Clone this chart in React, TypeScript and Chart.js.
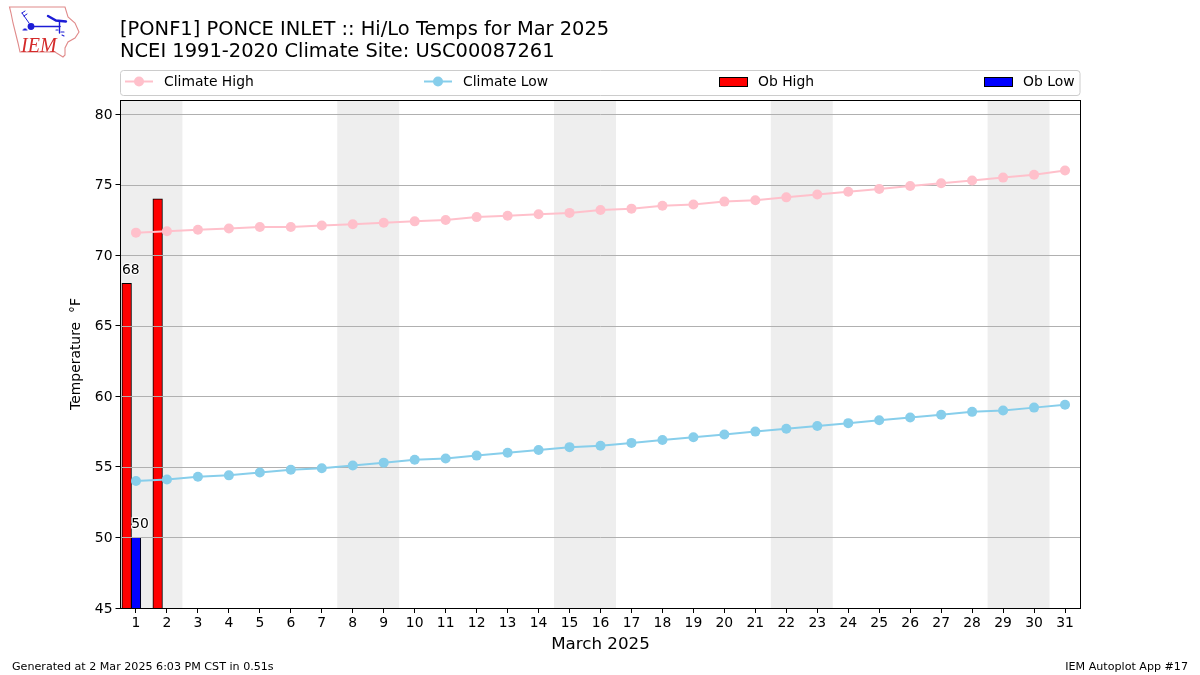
import React, { useEffect, useRef } from "react";
import { Chart, registerables } from "chart.js";

Chart.register(...registerables);

const titleLines = ["[PONF1] PONCE INLET :: Hi/Lo Temps for Mar 2025", "NCEI 1991-2020 Climate Site: USC00087261"];
const xAxisTitle = "March 2025";
const yAxisTitle = "Temperature  \u00B0F";
const footerLeft = "Generated at 2 Mar 2025 6:03 PM CST in 0.51s";
const footerRight = "IEM Autoplot App #17";

const days = [1, 2, 3, 4, 5, 6, 7, 8, 9, 10, 11, 12, 13, 14, 15, 16, 17, 18, 19, 20, 21, 22, 23, 24, 25, 26, 27, 28, 29, 30, 31];
const yTicks = [45, 50, 55, 60, 65, 70, 75, 80];
const weekendStarts = [0.5, 7.5, 14.5, 21.5, 28.5];
const climateHigh = [71.6, 71.7, 71.8, 71.9, 72.0, 72.0, 72.1, 72.2, 72.3, 72.4, 72.5, 72.7, 72.8, 72.9, 73.0, 73.2, 73.3, 73.5, 73.6, 73.8, 73.9, 74.1, 74.3, 74.5, 74.7, 74.9, 75.1, 75.3, 75.5, 75.7, 76.0];
const climateLow = [54.0, 54.1, 54.3, 54.4, 54.6, 54.8, 54.9, 55.1, 55.3, 55.5, 55.6, 55.8, 56.0, 56.2, 56.4, 56.5, 56.7, 56.9, 57.1, 57.3, 57.5, 57.7, 57.9, 58.1, 58.3, 58.5, 58.7, 58.9, 59.0, 59.2, 59.4];
const obHighDays = [1, 2];
const obHighValues = [68, 74];
const obLowDays = [1];
const obLowValues = [50];

const FONT = "'DejaVu Sans'";
const HIGH_OFFSET = -0.3;
const LOW_OFFSET = 0;
const BAR_PX = 9.6;
const MARKER_R = 5;

const chrome = {
  id: "chrome",
  beforeDraw(chart: any) {
    if (chart.$labelsNudged) return;
    chart.$labelsNudged = true;
    chart.scales.y.getLabelItems(chart.chartArea).forEach((item: any) => { item.textOffset += 1; });
  },
  beforeDatasetsDraw(chart: any) {
    const { ctx, chartArea: a, scales } = chart;
    ctx.save();
    ctx.fillStyle = "#eeeeee";
    for (const s of weekendStarts) {
      const x0 = scales.x.getPixelForValue(s);
      const x1 = scales.x.getPixelForValue(s + 2);
      ctx.fillRect(x0, a.top, x1 - x0, a.bottom - a.top);
    }
    ctx.restore();
    chart.$gridDone = false;
  },
  beforeDatasetDraw(chart: any, args: any) {
    if (chart.$gridDone || args.meta.type !== "line") return;
    chart.$gridDone = true;
    const { ctx, chartArea: a, scales } = chart;
    ctx.save();
    ctx.strokeStyle = "#b0b0b0";
    ctx.lineWidth = 1;
    for (const v of yTicks) {
      const y = Math.round(scales.y.getPixelForValue(v)) + 0.5;
      ctx.beginPath();
      ctx.moveTo(a.left, y);
      ctx.lineTo(a.right, y);
      ctx.stroke();
    }
    ctx.restore();
  },
  afterDatasetsDraw(chart: any) {
    const { ctx, chartArea: a, scales } = chart;
    ctx.save();
    ctx.strokeStyle = "#000";
    ctx.lineWidth = 1;
    ctx.strokeRect(Math.floor(a.left) + 0.5, a.top + 0.5, a.right - a.left, a.bottom - a.top);

    ctx.font = `13.9px ${FONT}`;
    ctx.textAlign = "left";
    ctx.textBaseline = "alphabetic";
    const labelled = [
      { x: obHighDays[0] + HIGH_OFFSET, v: obHighValues[0] },
      { x: obLowDays[0] + LOW_OFFSET, v: obLowValues[0] },
    ];
    for (const l of labelled) {
      const px = scales.x.getPixelForValue(l.x) - BAR_PX / 2;
      const py = scales.y.getPixelForValue(l.v) - 9.5;
      ctx.strokeStyle = "rgba(255,255,255,0.9)";
      ctx.lineWidth = 2.5;
      ctx.lineJoin = "round";
      ctx.strokeText(String(l.v), px, py);
      ctx.fillStyle = "#000";
      ctx.fillText(String(l.v), px, py);
    }
    ctx.restore();
  },
  afterDraw(chart: any) {
    const { ctx } = chart;
    ctx.save();
    ctx.fillStyle = "#000";
    ctx.textBaseline = "alphabetic";
    ctx.textAlign = "left";
    ctx.font = `19.44px ${FONT}`;
    ctx.fillText(titleLines[0], 120, 35);
    ctx.fillText(titleLines[1], 120, 57);

    ctx.strokeStyle = "#cccccc";
    ctx.lineWidth = 1;
    ctx.fillStyle = "#fff";
    ctx.beginPath();
    ctx.roundRect(120.5, 70.5, 959.5, 25, 3);
    ctx.fill();
    ctx.stroke();

    const ds = chart.data.datasets;
    const slots = [
      { set: ds[0], x: 125, tx: 164 },
      { set: ds[1], x: 424, tx: 463 },
      { set: ds[2], x: 719, tx: 758 },
      { set: ds[3], x: 984, tx: 1023 },
    ];
    const cy = 81.5;
    ctx.font = `13.9px ${FONT}`;
    for (const s of slots) {
      if (s.set.type === "line") {
        ctx.strokeStyle = s.set.borderColor;
        ctx.lineWidth = 2;
        ctx.beginPath();
        ctx.moveTo(s.x, cy);
        ctx.lineTo(s.x + 28, cy);
        ctx.stroke();
        ctx.fillStyle = s.set.borderColor;
        ctx.beginPath();
        ctx.arc(s.x + 14, cy, MARKER_R, 0, Math.PI * 2);
        ctx.fill();
      } else {
        ctx.fillStyle = s.set.backgroundColor;
        ctx.fillRect(s.x + 0.5, 77.5, 28, 9);
        ctx.strokeStyle = "#000";
        ctx.lineWidth = 1;
        ctx.strokeRect(s.x + 0.5, 77.5, 28, 9);
      }
      ctx.fillStyle = "#000";
      ctx.fillText(s.set.label, s.tx, 86);
    }

    ctx.font = `11.11px ${FONT}`;
    ctx.fillText(footerLeft, 12, 670);
    ctx.textAlign = "right";
    ctx.fillText(footerRight, 1188, 670);
    ctx.restore();
  },
};

function Logo() {
  return (
    <svg width={90} height={62} style={{ position: "absolute", left: 0, top: 0 }}>
      <path d="M9.5 7 L65 7 L68 17 L75 23 L79 32 L75 38 L68 42 L65 48 L65 55 L63 57 L55 52 L20 52 L18 43 L13 23 L11 13 Z" fill="#fff" stroke="#e08a8a" strokeWidth={1.1} />
      <g stroke="#1c1cd6" fill="#1c1cd6" strokeLinecap="round">
        <circle cx={31} cy={26.5} r={3.4} stroke="none" />
        <path d="M31 26.5 L60 26.5" strokeWidth={1.6} />
        <path d="M48 16 L56 20.5 L66 21.5" strokeWidth={2.4} fill="none" />
        <path d="M59.5 21.5 L59.5 33" strokeWidth={1.4} fill="none" />
        <path d="M22 13 L29 23 M22 13 L25 11 M24 16 L27 14" strokeWidth={1} fill="none" />
        <path d="M24 29 L26 29 M23 30 L27 30" strokeWidth={1.1} fill="none" />
        <path d="M56 30 L58 30 M61 32 L64 32 M62 35 L64 36" strokeWidth={1.1} fill="none" />
      </g>
      <text x={21} y={52} fontFamily="'Liberation Serif'" fontStyle="italic" fontSize={20} fill="#d42a2a">IEM</text>
    </svg>
  );
}

export default function App() {
  const ref = useRef<HTMLCanvasElement>(null);
  useEffect(() => {
    const chart = new Chart(ref.current as HTMLCanvasElement, {
      type: "bar",
      data: {
        datasets: [
          { type: "line", label: "Climate High", data: days.map((d, i) => ({ x: d, y: climateHigh[i] })), borderColor: "#ffc0cb", backgroundColor: "#ffc0cb", borderWidth: 2, pointRadius: MARKER_R, pointBorderWidth: 0, tension: 0, order: 1, clip: false },
          { type: "line", label: "Climate Low", data: days.map((d, i) => ({ x: d, y: climateLow[i] })), borderColor: "#87ceeb", backgroundColor: "#87ceeb", borderWidth: 2, pointRadius: MARKER_R, pointBorderWidth: 0, tension: 0, order: 1, clip: false },
          { type: "bar", label: "Ob High", data: obHighDays.map((d, i) => ({ x: d + HIGH_OFFSET, y: obHighValues[i] })), backgroundColor: "#ff0000", borderColor: "#000", borderWidth: 1, barThickness: BAR_PX, grouped: false, order: 2 },
          { type: "bar", label: "Ob Low", data: obLowDays.map((d, i) => ({ x: d + LOW_OFFSET, y: obLowValues[i] })), backgroundColor: "#0000ff", borderColor: "#000", borderWidth: 1, barThickness: BAR_PX, grouped: false, order: 2 },
        ],
      } as any,
      options: {
        responsive: false,
        animation: false,
        layout: { autoPadding: false, padding: { left: 0, right: 119.5, top: 100, bottom: 0 } },
        plugins: { legend: { display: false }, title: { display: false }, tooltip: { enabled: false } },
        scales: {
          x: {
            type: "linear",
            min: 0.5,
            max: 31.5,
            offset: false,
            afterFit: (s: any) => { s.height = 67; },
            afterBuildTicks: (s: any) => { s.ticks = days.map((v) => ({ value: v })); },
            grid: { offset: false, color: "transparent", tickColor: "#000", tickLength: 5, drawTicks: true, tickWidth: 1 },
            border: { display: false },
            ticks: { autoSkip: false, maxRotation: 0, color: "#000", padding: 2, font: { family: "DejaVu Sans", size: 13.9 } },
            title: { display: true, text: xAxisTitle, color: "#000", font: { family: "DejaVu Sans", size: 16.7 }, padding: { top: 0, bottom: 20 } },
          },
          y: {
            type: "linear",
            min: 45,
            max: 81,
            afterFit: (s: any) => { s.width = 120.5; },
            afterBuildTicks: (s: any) => { s.ticks = yTicks.map((v) => ({ value: v })); },
            grid: { color: "transparent", tickColor: "#000", tickLength: 5, drawTicks: true, tickWidth: 1 },
            border: { display: false },
            ticks: { autoSkip: false, color: "#000", padding: 3, font: { family: "DejaVu Sans", size: 13.9 } },
            title: { display: true, text: yAxisTitle, color: "#000", font: { family: "DejaVu Sans", size: 13.9 }, padding: { top: 68, bottom: 0 } },
          },
        },
      } as any,
      plugins: [chrome],
    });
    return () => chart.destroy();
  }, []);
  return (
    <div style={{ position: "absolute", left: 0, top: 0, width: 1200, height: 675, background: "#fff" }}>
      <canvas ref={ref} width={1200} height={675} style={{ display: "block" }} />
      <Logo />
    </div>
  );
}
